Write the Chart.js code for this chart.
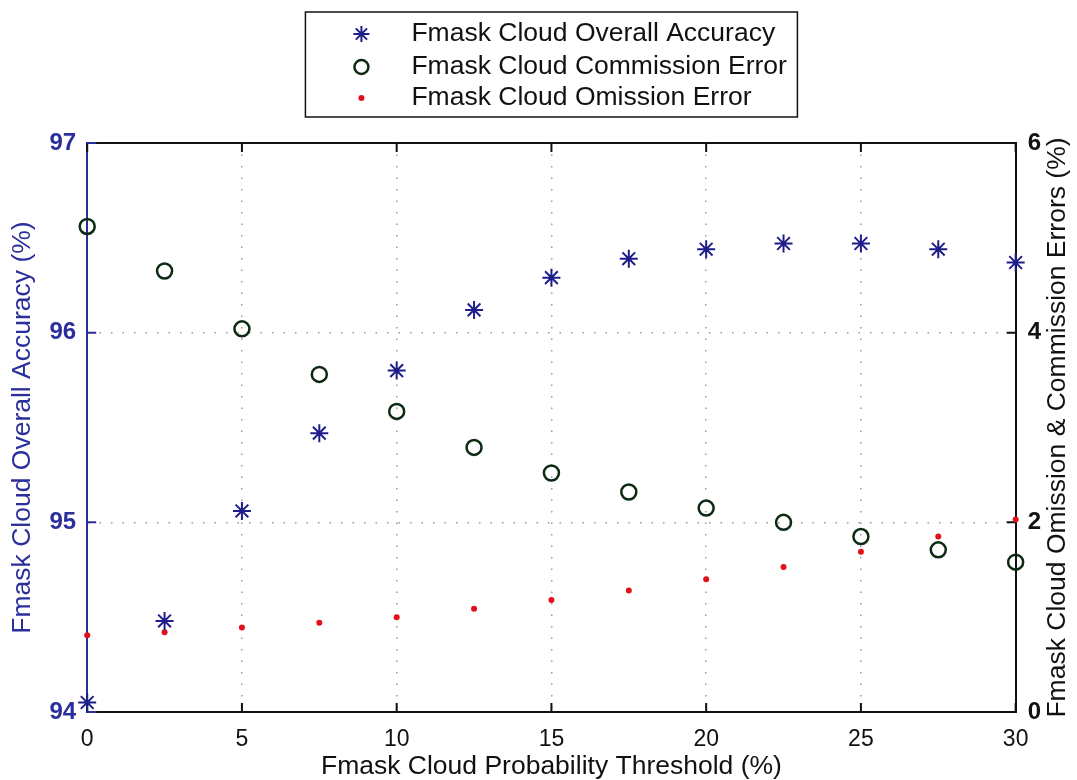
<!DOCTYPE html>
<html>
<head>
<meta charset="utf-8">
<script src="https://cdn.jsdelivr.net/npm/chart.js"></script>
<style>
  body { margin: 0; background: #fff; }
  #chart { display: block; }
</style>
</head>
<body>
<canvas id="chart" width="1077" height="780"></canvas>
<script>
// values
const thresholds = [0, 2.5, 5, 7.5, 10, 12.5, 15, 17.5, 20, 22.5, 25, 27.5, 30];
const overallAccuracy = [94.05, 94.48, 95.06, 95.47, 95.80, 96.12, 96.29, 96.39, 96.44, 96.47, 96.47, 96.44, 96.37];
const commissionError = [5.12, 4.65, 4.04, 3.56, 3.17, 2.79, 2.52, 2.32, 2.15, 2.00, 1.85, 1.71, 1.58];
const omissionError = [0.81, 0.84, 0.89, 0.94, 1.00, 1.09, 1.18, 1.28, 1.40, 1.53, 1.69, 1.85, 2.03];

const xTicks = [0, 5, 10, 15, 20, 25, 30];
const accuracyTicks = [94, 95, 96, 97];
const errorTicks = [0, 2, 4, 6];

const seriesLabels = [
    'Fmask Cloud Overall Accuracy',
    'Fmask Cloud Commission Error',
    'Fmask Cloud Omission Error'
];

const navy = '#1e1e8a';
const axisBlue = '#2b2f9c';
const circleColor = '#0c2a12';
const dotRed = '#e3101c';
const gridColor = '#9a9a9a';
const fontFamily = '"Liberation Sans", Arial, Helvetica, sans-serif';
const titleSize = 26.5;

function toPoints(xs, ys) {
    return xs.map((x, i) => ({ x: x, y: ys[i] }));
}

// MATLAB-like box: top edge, inward tick marks, right axis title, legend box
const matlabFrame = {
    id: 'matlabFrame',
    beforeDatasetsDraw(chart) {
        const ctx = chart.ctx;
        const area = chart.chartArea;
        const x = chart.scales.x;
        const y = chart.scales.y;
        const y2 = chart.scales.y2;
        const tick = 9;

        ctx.save();
        ctx.lineWidth = 2;
        ctx.strokeStyle = '#111';
        ctx.beginPath();
        ctx.moveTo(area.left, area.top);
        ctx.lineTo(area.right, area.top);
        ctx.stroke();

        ctx.beginPath();
        xTicks.forEach(v => {
            const px = x.getPixelForValue(v);
            ctx.moveTo(px, area.bottom);
            ctx.lineTo(px, area.bottom - tick);
            ctx.moveTo(px, area.top);
            ctx.lineTo(px, area.top + tick);
        });
        errorTicks.forEach(v => {
            const py = y2.getPixelForValue(v);
            ctx.moveTo(area.right, py);
            ctx.lineTo(area.right - tick, py);
        });
        ctx.stroke();

        ctx.strokeStyle = axisBlue;
        ctx.beginPath();
        accuracyTicks.forEach(v => {
            const py = y.getPixelForValue(v);
            ctx.moveTo(area.left, py);
            ctx.lineTo(area.left + tick, py);
        });
        ctx.stroke();
        ctx.restore();
    },
    afterDraw(chart) {
        const ctx = chart.ctx;
        const area = chart.chartArea;

        // right axis title, reading bottom to top like the left one
        ctx.save();
        ctx.translate(area.right + 42, (area.top + area.bottom) / 2);
        ctx.rotate(-Math.PI / 2);
        ctx.fillStyle = '#111';
        ctx.font = titleSize + 'px ' + fontFamily;
        ctx.textAlign = 'center';
        ctx.textBaseline = 'middle';
        ctx.fillText('Fmask Cloud Omission & Commission Errors (%)', 0, 0);
        ctx.restore();

        // legend
        const boxW = 492, boxH = 105;
        const cx = (area.left + area.right) / 2;
        const left = cx - boxW / 2;
        const top = 12;
        ctx.save();
        ctx.fillStyle = '#fff';
        ctx.fillRect(left, top, boxW, boxH);
        ctx.strokeStyle = '#111';
        ctx.lineWidth = 1.5;
        ctx.strokeRect(left, top, boxW, boxH);

        const rows = [top + 22, top + 55, top + 86];
        const mx = left + 56;
        chart.data.datasets.forEach((ds, i) => {
            const ry = rows[i];
            ctx.strokeStyle = ds.borderColor;
            ctx.fillStyle = ds.backgroundColor;
            if (ds.pointStyle === 'star') {
                ctx.lineWidth = 2;
                ctx.beginPath();
                for (let k = 0; k < 4; k++) {
                    const a = k * Math.PI / 4;
                    const r = 8;
                    ctx.moveTo(mx - Math.cos(a) * r, ry - Math.sin(a) * r);
                    ctx.lineTo(mx + Math.cos(a) * r, ry + Math.sin(a) * r);
                }
                ctx.stroke();
            } else if (ds.pointRadius > 5) {
                ctx.lineWidth = 2.5;
                ctx.beginPath();
                ctx.arc(mx, ry, 7, 0, Math.PI * 2);
                ctx.stroke();
            } else {
                ctx.beginPath();
                ctx.arc(mx, ry, 3, 0, Math.PI * 2);
                ctx.fill();
            }
            ctx.fillStyle = '#111';
            ctx.font = titleSize + 'px ' + fontFamily;
            ctx.textAlign = 'left';
            ctx.textBaseline = 'middle';
            ctx.fillText(ds.label, left + 106, ry);
        });
        ctx.restore();
    }
};

const ctx = document.getElementById('chart').getContext('2d');
const chart = new Chart(ctx, {
    type: 'scatter',
    data: {
        datasets: [{
            label: seriesLabels[0],
            data: toPoints(thresholds, overallAccuracy),
            yAxisID: 'y',
            pointStyle: 'star',
            pointRadius: 9,
            pointBorderWidth: 2,
            borderColor: navy,
            backgroundColor: navy,
            clip: false
        }, {
            label: seriesLabels[1],
            data: toPoints(thresholds, commissionError),
            yAxisID: 'y2',
            pointStyle: 'circle',
            pointRadius: 7.5,
            pointBorderWidth: 2.5,
            borderColor: circleColor,
            backgroundColor: 'rgba(0,0,0,0)',
            clip: false
        }, {
            label: seriesLabels[2],
            data: toPoints(thresholds, omissionError),
            yAxisID: 'y2',
            pointStyle: 'circle',
            pointRadius: 3,
            pointBorderWidth: 0,
            borderColor: dotRed,
            backgroundColor: dotRed,
            clip: false
        }]
    },
    options: {
        responsive: false,
        animation: false,
        devicePixelRatio: 1,
        layout: {
            padding: { top: 143, left: 9, right: 24, bottom: 0 }
        },
        plugins: {
            legend: { display: false },
            tooltip: { enabled: false }
        },
        scales: {
            x: {
                type: 'linear',
                min: 0,
                max: 30,
                afterBuildTicks: scale => { scale.ticks = xTicks.map(v => ({ value: v })); },
                ticks: {
                    color: '#111',
                    padding: 16.5,
                    font: { family: fontFamily, size: 23, lineHeight: 1 }
                },
                grid: {
                    color: gridColor,
                    lineWidth: 1.5,
                    drawTicks: false
                },
                border: { color: '#111', width: 2, dash: [1.5, 10] },
                title: {
                    display: true,
                    text: 'Fmask Cloud Probability Threshold (%)',
                    color: '#111',
                    font: { family: fontFamily, size: titleSize, lineHeight: 1 },
                    padding: { top: -14.5, bottom: 0 }
                }
            },
            y: {
                type: 'linear',
                position: 'left',
                min: 94,
                max: 97,
                afterBuildTicks: scale => { scale.ticks = accuracyTicks.map(v => ({ value: v })); },
                ticks: {
                    color: axisBlue,
                    padding: 11,
                    font: { family: fontFamily, size: 24, weight: 'bold' }
                },
                grid: {
                    color: gridColor,
                    lineWidth: 1.5,
                    drawTicks: false
                },
                border: { color: axisBlue, width: 2, dash: [1.5, 10] },
                title: {
                    display: true,
                    text: 'Fmask Cloud Overall Accuracy (%)',
                    color: axisBlue,
                    font: { family: fontFamily, size: titleSize, lineHeight: 1 },
                    padding: { top: 0, bottom: 3 }
                }
            },
            y2: {
                type: 'linear',
                position: 'right',
                min: 0,
                max: 6,
                afterBuildTicks: scale => { scale.ticks = errorTicks.map(v => ({ value: v })); },
                ticks: {
                    color: '#111',
                    padding: 12,
                    font: { family: fontFamily, size: 24, weight: 'bold' }
                },
                grid: { drawOnChartArea: false, drawTicks: false },
                border: { color: '#111', width: 2 }
            }
        }
    },
    plugins: [matlabFrame]
});
</script>
</body>
</html>
